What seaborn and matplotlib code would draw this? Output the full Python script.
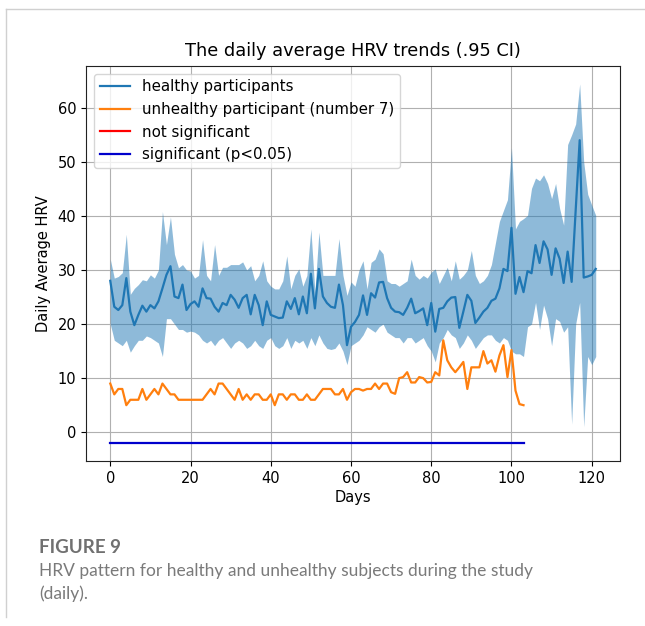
import numpy as np
import pandas as pd
import matplotlib
matplotlib.use("Agg")
import matplotlib.pyplot as plt
from matplotlib.lines import Line2D
import seaborn as sns

# ---------------- data ----------------
healthy_mean = [
    28.0, 23.2, 22.6, 23.5, 28.5, 22.3, 19.8, 21.7, 23.4, 22.3,
    23.5, 22.9, 24.2, 26.6, 29.1, 30.7, 25.1, 24.8, 27.3, 22.6,
    23.7, 24.2, 23.2, 26.6, 24.8, 24.7, 23.2, 22.3, 23.9, 23.5,
    25.4, 24.5, 23.0, 24.8, 25.4, 21.8, 25.4, 23.5, 19.8, 24.2,
    21.7, 21.4, 21.1, 21.2, 24.2, 22.8, 24.8, 21.8, 25.1, 22.0,
    29.3, 22.9, 30.2, 25.1, 23.9, 23.2, 23.0, 27.3, 23.5, 16.1,
    19.5, 20.4, 21.7, 25.3, 21.7, 25.7, 24.9, 27.7, 27.8, 24.8,
    23.0, 22.3, 22.2, 21.7, 23.0, 24.7, 22.0, 22.4, 22.9, 19.8,
    23.9, 18.6, 22.8, 23.0, 24.2, 24.9, 25.0, 19.3, 22.3, 25.4,
    24.3, 20.2, 21.2, 22.3, 23.0, 24.3, 24.7, 26.6, 30.2, 29.8,
    37.8, 25.6, 28.7, 25.9, 29.8, 29.4, 34.6, 31.3, 35.3, 33.8,
    29.1, 34.0, 32.1, 27.6, 33.4, 27.8, 41.0, 54.0, 28.6, 28.8,
    29.1, 30.2,
]

healthy_upper = [
    32.0, 28.5, 28.8, 29.5, 36.6, 25.5, 26.6, 27.3, 28.2, 28.0,
    29.1, 28.5, 30.0, 40.8, 34.7, 39.8, 32.9, 30.4, 31.0, 30.0,
    29.8, 28.5, 29.0, 35.6, 29.0, 28.0, 34.7, 29.0, 30.5, 30.5,
    31.0, 31.0, 31.0, 31.5, 30.0, 30.8, 28.0, 29.0, 31.7, 28.0,
    27.0, 26.5, 26.5, 28.0, 32.6, 26.5, 29.0, 30.2, 27.0, 29.0,
    37.6, 26.0, 37.0, 29.0, 29.0, 29.0, 29.0, 35.8, 29.0, 25.3,
    27.8, 27.0, 30.0, 31.7, 26.5, 31.4, 32.0, 33.9, 33.0, 28.0,
    27.5, 27.5, 27.0, 27.5, 28.0, 32.0, 29.0, 28.3, 29.0, 28.5,
    29.6, 30.2, 27.5, 29.0, 30.5, 28.0, 31.7, 28.3, 29.0, 30.0,
    33.6, 29.0, 27.5, 28.0, 29.0, 31.0, 35.0, 39.0, 41.0, 43.0,
    52.6, 37.6, 39.0, 39.5, 40.1, 45.1, 47.0, 46.5, 47.6, 46.0,
    43.2, 46.0, 41.4, 38.3, 53.2, 55.0, 57.0, 64.4, 50.0, 44.0,
    42.0, 40.1,
]

healthy_lower = [
    20.0, 17.0, 16.5, 16.0, 17.0, 14.8, 16.0, 17.0, 17.0, 17.8,
    17.5, 17.0, 16.5, 14.0, 21.0, 21.0, 20.0, 19.0, 19.0, 18.5,
    18.7, 18.5, 18.0, 17.0, 16.5, 17.0, 16.0, 17.0, 17.5, 16.5,
    15.5, 16.5, 17.0, 16.5, 15.5, 16.0, 17.0, 16.0, 15.5, 17.0,
    17.5, 16.0, 15.5, 16.0, 17.5, 15.5, 17.0, 16.5, 17.0, 15.5,
    17.5, 16.0, 18.0, 16.5, 15.5, 15.3, 15.5, 16.5, 15.0, 12.5,
    16.0, 16.5, 17.0, 18.0, 19.5, 19.0, 18.5, 19.5, 20.0, 18.5,
    18.0, 17.5, 17.5, 16.5, 17.5, 17.5, 16.5, 17.0, 17.5, 16.0,
    15.0, 13.0, 16.5, 17.5, 19.0, 18.0, 17.5, 15.5, 16.5, 18.0,
    17.0, 15.5, 16.5, 17.5, 18.0, 18.0, 17.0, 16.5, 17.5, 17.0,
    15.0, 14.5, 14.5, 14.0, 19.5, 20.0, 24.0, 19.0, 23.5, 21.0,
    16.0, 21.0, 20.5, 18.5, 19.5, 1.5, 20.0, 24.0, 1.0, 14.0,
    12.5, 14.0,
]

unhealthy = [
    9, 7, 8, 8, 5, 6, 6, 6, 8, 6,
    7, 8, 7, 9, 8, 7, 7, 6, 6, 6,
    6, 6, 6, 6, 7, 8, 7, 9, 9, 8,
    7, 6, 8, 6, 7, 6, 7, 7, 6, 6,
    7, 5, 7, 7, 6, 7, 7, 6, 6, 7,
    6, 6, 7, 8, 8, 8, 7, 7, 8, 6,
    7.4, 8, 8, 7.7, 8, 8, 9, 8, 9, 9,
    7.4, 7.1, 10, 10.2, 11.1, 9.2, 9.2, 10.2, 10, 9.2,
    9.3, 11.1, 10.5, 17, 13.3, 12, 11.1, 12, 13, 8,
    12, 12, 12, 15, 12.7, 13.3, 11.2, 14.2, 16.1, 10.2,
    15.2, 7.7, 5.2, 5.0,
]

sig_days = [0, 103]
sig_level = [-2, -2]

labels = ["healthy participants", "unhealthy participant (number 7)",
          "not significant", "significant (p<0.05)"]
title = "The daily average HRV trends (.95 CI)"
xlabel = "Days"
ylabel = "Daily Average HRV"
fig_label = "FIGURE 9"
caption_lines = ["HRV pattern for healthy and unhealthy subjects during the study",
                 "(daily)."]

healthy_days = np.arange(len(healthy_mean))
unhealthy_days = np.arange(len(unhealthy))

df_h = pd.DataFrame({"day": healthy_days, "hrv": healthy_mean,
                     "lo": healthy_lower, "hi": healthy_upper})
df_u = pd.DataFrame({"day": unhealthy_days, "hrv": unhealthy})
df_s = pd.DataFrame({"day": sig_days, "level": sig_level})

# ---------------- plot ----------------
plt.rcParams["font.family"] = ["DejaVu Sans"]
fig = plt.figure(figsize=(6.45, 6.26), dpi=100)
ax = fig.add_axes([86 / 645, 1 - 461 / 626, (620 - 86) / 645, (461 - 66) / 626])

blue = "#1f77b4"
orange = "#ff7f0e"

ax.fill_between(df_h["day"], df_h["lo"], df_h["hi"], color=blue, alpha=0.5,
                linewidth=0)
sns.lineplot(data=df_h, x="day", y="hrv", color=blue, ax=ax, label=labels[0],
             linewidth=1.6)
sns.lineplot(data=df_u, x="day", y="hrv", color=orange, ax=ax, label=labels[1],
             linewidth=1.6)
ax.plot([], [], color="red", label=labels[2], linewidth=1.6)
sns.lineplot(data=df_s, x="day", y="level", color="#0000cc", ax=ax,
             label=labels[3], linewidth=1.6)

ax.set_xticks([0, 20, 40, 60, 80, 100, 120])
ax.set_yticks([0, 10, 20, 30, 40, 50, 60])
ax.grid(True, color="#b0b0b0", linewidth=0.8)
ax.set_axisbelow(True)
ax.set_xlabel(xlabel, fontsize=10.5, labelpad=3)
ax.set_ylabel(ylabel, fontsize=10.5, labelpad=5)
ax.set_title(title, fontsize=12.8, pad=7)
ax.tick_params(labelsize=10.5)
ax.legend(loc="upper left", fontsize=10.8, framealpha=0.8)
for s in ax.spines.values():
    s.set_color("#222222")

# caption
fig.text(39 / 645, 1 - 553 / 626, fig_label, family="Lato", fontsize=13.5,
         fontweight="bold", color="#707070", va="baseline")
fig.text(39 / 645, 1 - 576 / 626, caption_lines[0], family="Lato", fontsize=12.5,
         color="#7a7a7a", va="baseline")
fig.text(39 / 645, 1 - 599 / 626, caption_lines[1], family="Lato", fontsize=12.5,
         color="#7a7a7a", va="baseline")

# card border
fig.add_artist(Line2D([6 / 645, 1.0], [1 - 9 / 626, 1 - 9 / 626],
                      transform=fig.transFigure, color="#d0d0d0", linewidth=1))
fig.add_artist(Line2D([6 / 645, 6 / 645], [1 - 9 / 626, 1 - 617 / 626],
                      transform=fig.transFigure, color="#d0d0d0", linewidth=1))

fig.savefig("out.png", dpi=100)
